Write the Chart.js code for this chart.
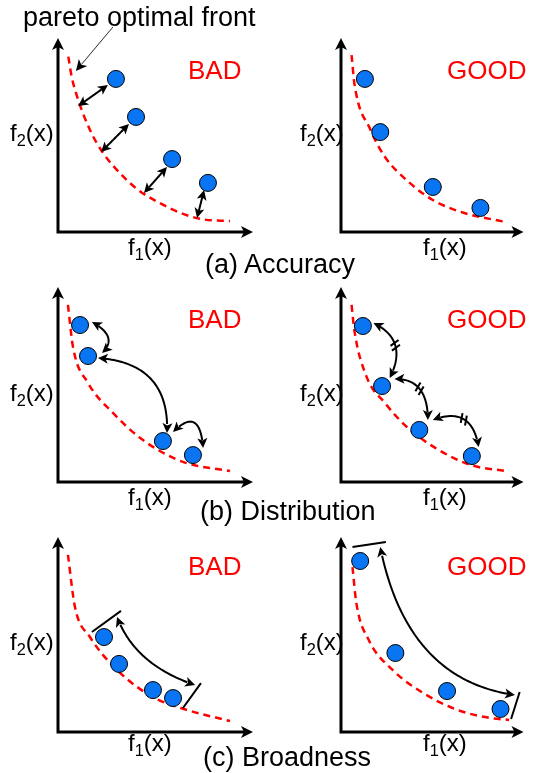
<!DOCTYPE html>
<html>
<head>
<meta charset="utf-8">
<script src="https://cdn.jsdelivr.net/npm/chart.js@4.4.1/dist/chart.umd.min.js"></script>
<style>
  body { margin: 0; background: #fff; }
  #page { position: relative; width: 533px; height: 773px; overflow: hidden;
          font-family: "Liberation Sans", Arial, sans-serif; color: #000; }
  #page canvas { position: absolute; }
  .txt { position: absolute; white-space: nowrap; }
  .verdict { color: #f00; }
  .txt sub { font-size: 0.68em; vertical-align: -0.28em; line-height: 0; }
</style>
</head>
<body>
<div id="page"></div>
<script>
// ---- labels ----
const CAPTIONS = ["(a) Accuracy", "(b) Distribution", "(c) Broadness"];
const VERDICTS = ["BAD", "GOOD"];
const FRONT_LABEL = "pareto optimal front";
const X_LABEL = "f<sub>1</sub>(x)";
const Y_LABEL = "f<sub>2</sub>(x)";

// ---- pareto fronts, [f1, f2] ----
const frontAccBad = [[0.53, 9.04], [0.70, 8.01], [1.04, 6.80], [1.64, 5.26], [2.32, 4.06], [3.18, 3.03],
                     [4.12, 2.16], [5.15, 1.53], [6.26, 0.99], [7.45, 0.65], [8.82, 0.57]];
const frontAccGood = [[0.58, 9.12], [0.73, 7.68], [1.62, 5.26], [2.41, 3.87], [3.77, 2.53], [5.03, 1.65],
                      [6.75, 0.98], [9.00, 0.52]];
const frontDistBad = [[0.51, 9.08], [0.77, 6.92], [1.54, 5.08], [2.82, 3.54], [4.36, 2.15], [6.41, 1.03],
                      [8.82, 0.56]];
const frontDistGood = [[0.58, 9.08], [0.73, 7.79], [1.41, 5.38], [2.41, 4.05], [3.61, 2.82], [5.18, 1.74],
                       [7.12, 0.87], [9.00, 0.56]];
const frontBroadBad = [[0.51, 9.08], [0.87, 6.41], [1.64, 4.87], [3.03, 3.18], [4.87, 1.79], [6.62, 1.13],
                       [8.82, 0.56]];
const frontBroadGood = [[0.63, 8.46], [0.84, 6.62], [1.52, 4.72], [2.83, 3.18], [4.50, 2.00], [6.39, 1.13],
                        [8.17, 0.72], [9.21, 0.62]];

// ---- obtained solutions ----
const pointsAccBad = [[2.97, 7.89], [4.00, 5.93], [5.85, 3.76], [7.69, 2.53]];
const pointsAccGood = [[1.31, 7.89], [2.15, 5.15], [5.03, 2.32], [7.64, 1.24]];
const pointsDistBad = [[1.13, 8.05], [1.54, 6.46], [5.38, 2.10], [6.92, 1.38]];
const pointsDistGood = [[1.20, 8.00], [2.25, 4.92], [4.29, 2.67], [7.17, 1.33]];
const pointsBroadBad = [[2.36, 4.87], [3.13, 3.49], [4.87, 2.15], [5.90, 1.74]];
const pointsBroadGood = [[1.05, 8.77], [2.98, 4.05], [5.81, 2.10], [8.74, 1.18]];

// ---- annotations (x1, y1, x2, y2) and arcs (x0, y0, cx, cy, x1, y1) ----
const pointerFront = [2.82, 10.57, 0.92, 8.30];
const gapsAccBad = [[2.56, 7.58, 1.03, 6.49], [3.64, 5.57, 2.21, 4.12], [5.59, 3.35, 4.41, 2.01],
                    [7.49, 2.16, 7.13, 0.72]];
const spacingDistBad = [[1.74, 8.21, 3.13, 7.44, 2.26, 6.62], [2.05, 6.36, 5.74, 6.10, 5.59, 2.51],
                        [5.90, 2.56, 7.28, 3.95, 7.44, 1.74]];
const spacingDistGood = [[1.78, 8.15, 3.72, 7.28, 2.67, 5.33], [2.93, 5.28, 4.76, 5.33, 4.76, 3.18],
                         [5.03, 3.18, 7.17, 3.95, 7.54, 1.79]];
const extentBroadBad = [[3.03, 5.90, 3.95, 3.44, 7.03, 2.41]];
const barsBroadBad = [[1.74, 5.13, 3.23, 6.21], [6.41, 1.23, 7.33, 2.51]];
const extentBroadGood = [[2.15, 9.49, 3.61, 2.67, 9.53, 1.90]];
const barsBroadGood = [[0.63, 9.49, 2.46, 9.74], [9.32, 0.67, 9.79, 2.05]];

// ---- layout ----
const COLS = [{ left: 0, width: 266, x0: 58, x1: 253 }, { left: 266, width: 267, x0: 341, x1: 532 }];
const ROWS = [{ top: 0, height: 262, y0: 38, y1: 232 },
              { top: 262, height: 250, y0: 287, y1: 482 },
              { top: 512, height: 261, y0: 537, y1: 732 }];
const BLUE = "#0a75f2";
const page = document.getElementById("page");

function head(ctx, x, y, ang, len, half) {
    ctx.save();
    ctx.translate(x, y);
    ctx.rotate(ang);
    ctx.beginPath();
    ctx.moveTo(0, 0);
    ctx.lineTo(-len, -half);
    ctx.lineTo(-len * 0.75, 0);
    ctx.lineTo(-len, half);
    ctx.closePath();
    ctx.fill();
    ctx.restore();
}

function quad(p0, c, p1, t) {
    const u = 1 - t;
    return [u * u * p0[0] + 2 * u * t * c[0] + t * t * p1[0],
            u * u * p0[1] + 2 * u * t * c[1] + t * t * p1[1]];
}

// arrow along a quadratic curve; a straight one when c is null
function arrow(ctx, p0, c, p1, both, hl) {
    const cc = c || [(p0[0] + p1[0]) / 2, (p0[1] + p1[1]) / 2];
    const pts = [];
    for (let i = 0; i <= 60; i++) pts.push(quad(p0, cc, p1, i / 60));
    const keep = pts.filter(p =>
        Math.hypot(p[0] - p1[0], p[1] - p1[1]) > hl * 0.7 &&
        (!both || Math.hypot(p[0] - p0[0], p[1] - p0[1]) > hl * 0.7));
    if (!both) keep.unshift(p0);
    ctx.beginPath();
    keep.forEach((p, i) => i ? ctx.lineTo(p[0], p[1]) : ctx.moveTo(p[0], p[1]));
    ctx.stroke();
    head(ctx, p1[0], p1[1], Math.atan2(p1[1] - cc[1], p1[0] - cc[0]), hl, hl * 0.5);
    if (both) head(ctx, p0[0], p0[1], Math.atan2(p0[1] - cc[1], p0[0] - cc[0]), hl, hl * 0.5);
}

const sketchPlugin = {
    id: "sketch",
    beforeDatasetsDraw(chart) {
        const ctx = chart.ctx, a = chart.chartArea;
        ctx.save();
        ctx.strokeStyle = "#000";
        ctx.fillStyle = "#000";
        ctx.lineWidth = 3;
        ctx.beginPath();
        ctx.moveTo(a.left, a.top + 8);
        ctx.lineTo(a.left, a.bottom);
        ctx.lineTo(a.right - 8, a.bottom);
        ctx.stroke();
        head(ctx, a.left, a.top, -Math.PI / 2, 12, 6);
        head(ctx, a.right, a.bottom, 0, 12, 6);
        ctx.restore();
    },
    afterDatasetsDraw(chart, args, opts) {
        const ctx = chart.ctx;
        const sx = chart.scales.x, sy = chart.scales.y;
        const px = (x, y) => [sx.getPixelForValue(x), sy.getPixelForValue(y)];
        ctx.save();
        ctx.strokeStyle = "#000";
        ctx.fillStyle = "#000";
        if (opts.pointer) {
            const p = opts.pointer;
            ctx.lineWidth = 1;
            arrow(ctx, px(p[0], p[1]), null, px(p[2], p[3]), false, 11);
        }
        ctx.lineWidth = 2;
        (opts.lines || []).forEach(l => arrow(ctx, px(l[0], l[1]), null, px(l[2], l[3]), true, 10));
        (opts.arcs || []).forEach(l => {
            const p0 = px(l[0], l[1]), c = px(l[2], l[3]), p1 = px(l[4], l[5]);
            arrow(ctx, p0, c, p1, true, 10);
            if (opts.ticks) {
                const m = quad(p0, c, p1, 0.5);
                const t = Math.atan2(p1[1] - p0[1], p1[0] - p0[0]);
                [-2.5, 2.5].forEach(off => {
                    const cx = m[0] + off * Math.cos(t), cy = m[1] + off * Math.sin(t);
                    const n = t + Math.PI / 2 - 0.35;
                    ctx.beginPath();
                    ctx.moveTo(cx - 5 * Math.cos(n), cy - 5 * Math.sin(n));
                    ctx.lineTo(cx + 5 * Math.cos(n), cy + 5 * Math.sin(n));
                    ctx.stroke();
                });
            }
        });
        (opts.bars || []).forEach(b => {
            const p0 = px(b[0], b[1]), p1 = px(b[2], b[3]);
            ctx.beginPath();
            ctx.moveTo(p0[0], p0[1]);
            ctx.lineTo(p1[0], p1[1]);
            ctx.stroke();
        });
        ctx.restore();
    }
};

function xy(arr) {
    return arr.map(p => ({ x: p[0], y: p[1] }));
}

function panel(row, col, front, points, sketch) {
    const r = ROWS[row], c = COLS[col];
    const canvas = document.createElement("canvas");
    canvas.width = c.width;
    canvas.height = r.height;
    canvas.style.left = c.left + "px";
    canvas.style.top = r.top + "px";
    page.appendChild(canvas);
    return new Chart(canvas.getContext("2d"), {
        type: "scatter",
        data: {
            datasets: [{
                data: xy(points),
                backgroundColor: BLUE,
                borderColor: "#000",
                borderWidth: 1,
                pointRadius: 8.5,
                clip: false,
            }, {
                data: xy(front),
                showLine: true,
                borderColor: "#f00",
                borderWidth: 2.5,
                borderDash: [7, 5],
                cubicInterpolationMode: "monotone",
                pointRadius: 0,
                clip: false,
            }],
        },
        options: {
            responsive: false,
            animation: false,
            events: [],
            layout: {
                padding: {
                    left: c.x0 - c.left,
                    right: c.left + c.width - c.x1,
                    top: r.y0 - r.top,
                    bottom: r.top + r.height - r.y1,
                },
            },
            scales: {
                x: { type: "linear", min: 0, max: 10, display: false },
                y: { type: "linear", min: 0, max: 10, display: false },
            },
            plugins: {
                legend: { display: false },
                tooltip: { enabled: false },
                sketch: sketch,
            },
        },
        plugins: [sketchPlugin],
    });
}

function text(html, left, baseline, size, cls) {
    const d = document.createElement("div");
    d.className = "txt " + (cls || "");
    d.innerHTML = html;
    d.style.fontSize = size + "px";
    d.style.lineHeight = size + "px";
    d.style.left = left + "px";
    d.style.top = (baseline - 0.85 * size) + "px";
    page.appendChild(d);
}

panel(0, 0, frontAccBad, pointsAccBad, { pointer: pointerFront, lines: gapsAccBad });
panel(0, 1, frontAccGood, pointsAccGood, {});
panel(1, 0, frontDistBad, pointsDistBad, { arcs: spacingDistBad });
panel(1, 1, frontDistGood, pointsDistGood, { arcs: spacingDistGood, ticks: true });
panel(2, 0, frontBroadBad, pointsBroadBad, { arcs: extentBroadBad, bars: barsBroadBad });
panel(2, 1, frontBroadGood, pointsBroadGood, { arcs: extentBroadGood, bars: barsBroadGood });

text(FRONT_LABEL, 23, 27, 27);
const verdictLeft = [188, 447], yLabelLeft = [10, 300], xLabelLeft = [128, 423];
const verdictBase = [79, 328, 575], yLabelBase = [141, 401, 650], xLabelBase = [255, 505, 751];
const captionLeft = [205, 200, 203], captionBase = [274, 521, 767];
ROWS.forEach((r, i) => {
    VERDICTS.forEach((v, j) => {
        text(v, verdictLeft[j], verdictBase[i], 26, "verdict");
        text(Y_LABEL, yLabelLeft[j], yLabelBase[i], 24);
        text(X_LABEL, xLabelLeft[j], xLabelBase[i], 24);
    });
    text(CAPTIONS[i], captionLeft[i], captionBase[i], 27);
});
</script>
</body>
</html>
